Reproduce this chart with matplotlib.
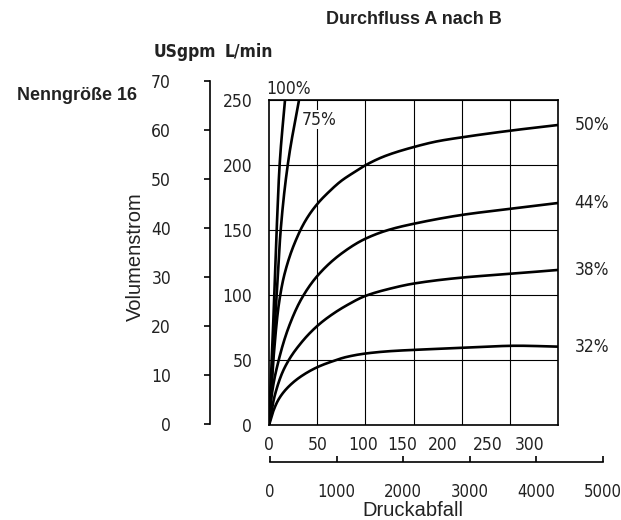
import matplotlib as mpl
mpl.use("Agg")
import matplotlib.pyplot as plt
import numpy as np
from matplotlib import font_manager

# schmale Schrift suchen, sonst Liberation Sans
def pick_font(bold):
    want = 700 if bold else 400
    for f in font_manager.fontManager.ttflist:
        n = f.name.lower()
        narrow = ("narrow" in n or "condensed" in n or f.stretch in ("condensed", "semi-condensed"))
        w = f.weight if isinstance(f.weight, int) else (700 if "bold" in str(f.weight) else 400)
        if narrow and w == want and f.style == "normal" and "mono" not in n and "cjk" not in n:
            return font_manager.FontProperties(fname=f.fname), True
    fam = "Liberation Sans"
    return font_manager.FontProperties(family=fam, weight="bold" if bold else "normal"), False


FP, IS_NARROW = pick_font(False)
FPB, IS_NARROW_B = pick_font(True)
TS = 12.5 if IS_NARROW else 11
TSB = 12.5 if IS_NARROW_B else 11
WIDE = ["Liberation Sans", "DejaVu Sans"]
plt.rcParams["font.family"] = WIDE

# Kennlinien (Druckabfall in bar, Volumenstrom in L/min)
p_100 = [0, 2.8, 5.5, 8, 11, 16.6]
q_100 = [0, 49, 100, 151, 200, 250]
p_75 = [0, 3.8, 8, 12.1, 19.4, 31.1]
q_75 = [0, 50, 100, 150, 200, 250]
p_50 = [0, 4.5, 10, 16, 30, 40, 51, 60, 75, 87, 100, 120, 150, 175, 200, 250, 300]
q_50 = [0, 50, 92, 116, 146, 160, 171, 178, 188, 194, 200, 207, 214, 218.5, 221.5, 226.6, 231]
p_44 = [0, 2.8, 9.7, 20, 34, 51, 75, 100, 125, 150, 200, 250, 300]
q_44 = [0, 23, 49, 74.6, 97.7, 115.6, 132, 143.5, 150.5, 155, 161.8, 166.5, 171]
p_38 = [0, 6, 16, 34, 51, 65, 80, 100, 125, 150, 200, 250, 300]
q_38 = [0, 23, 44, 64, 77, 85, 92, 99.5, 105, 109, 113.6, 116.5, 119.5]
p_32 = [0, 4, 10, 20, 34, 51, 65, 80, 100, 125, 150, 200, 258, 300]
q_32 = [0, 10, 20, 29.5, 38, 45, 49, 52.5, 55.2, 57, 58, 59.5, 61.2, 60.5]

bar_label_pos = [0, 50.9, 97.6, 138, 180.6, 227, 271]
bar_labels = ["0", "50", "100", "150", "200", "250", "300"]
bar_grid = [50, 100, 150, 200, 250]
lpm_ticks = [0, 50, 100, 150, 200, 250]
gpm_ticks = [0, 10, 20, 30, 40, 50, 60, 70]
psi_ticks = [0, 1000, 2000, 3000, 4000, 5000]
psi_labels = ["0", "1000", "2000", "3000", "4000", "5000"]


def smooth(p, q, n=40):
    x = np.asarray(p, float)
    y = np.asarray(q, float)
    h = np.diff(x)
    d = np.diff(y) / h
    m = np.zeros_like(y)
    m[0], m[-1] = d[0], d[-1]
    for i in range(1, len(x) - 1):
        if d[i - 1] * d[i] <= 0:
            m[i] = 0
        else:
            w1 = 2 * h[i] + h[i - 1]
            w2 = h[i] + 2 * h[i - 1]
            m[i] = (w1 + w2) / (w1 / d[i - 1] + w2 / d[i])
    xs, ys = [], []
    for i in range(len(x) - 1):
        t = np.linspace(0, 1, n, endpoint=False)
        h00 = 2 * t**3 - 3 * t**2 + 1
        h10 = t**3 - 2 * t**2 + t
        h01 = -2 * t**3 + 3 * t**2
        h11 = t**3 - t**2
        xs.append(x[i] + t * h[i])
        ys.append(h00 * y[i] + h10 * h[i] * m[i] + h01 * y[i + 1] + h11 * h[i] * m[i + 1])
    xs.append([x[-1]])
    ys.append([y[-1]])
    return np.concatenate(xs), np.concatenate(ys)


W, H = 621, 520
fig = plt.figure(figsize=(W / 100, H / 100), dpi=100)

# Hauptdiagramm
ax = fig.add_axes([269 / W, (H - 425.3) / H, 289 / W, 325 / H])
for p, q in [(p_100, q_100), (p_75, q_75), (p_50, q_50), (p_44, q_44), (p_38, q_38), (p_32, q_32)]:
    xs, ys = smooth(p, q)
    ax.plot(xs, ys, color="black", lw=1.9, solid_capstyle="round", zorder=3)
ax.set_xlim(0, 300)
ax.set_ylim(0, 250)
ax.set_xticks(bar_label_pos)
ax.set_xticklabels(bar_labels)
ax.set_xticks(bar_grid, minor=True)
ax.set_yticks(lpm_ticks)
ax.grid(which="minor", axis="x", color="black", lw=0.8)
ax.grid(which="major", axis="y", color="black", lw=0.8)
ax.tick_params(axis="both", which="both", length=0)
ax.tick_params(axis="x", pad=8)
ax.tick_params(axis="y", pad=12)
for lbl in ax.get_xticklabels() + ax.get_yticklabels():
    lbl.set_fontproperties(FP)
    lbl.set_fontsize(TS)
    lbl.set_color("#222222")
for s in ax.spines.values():
    s.set_linewidth(1.2)

for p, q, lab in [(p_50, q_50, "50%"), (p_44, q_44, "44%"), (p_38, q_38, "38%"), (p_32, q_32, "32%")]:
    ax.text(317, q[-1], lab, fontproperties=FP, fontsize=TS, va="center", ha="left",
            clip_on=False, color="#222222")
ax.text(20.8, 258.7, "100%", fontproperties=FP, fontsize=TS, va="center", ha="center",
        clip_on=False, color="#222222")
ax.text(51.9, 235, "75%", fontproperties=FP, fontsize=TS, va="center", ha="center", color="#222222",
        bbox=dict(facecolor="white", edgecolor="none", pad=0.5))

# USgpm-Achse
axg = fig.add_axes([210 / W, (H - 424) / H, 0.001, (424 - 80.7) / H])
axg.set_ylim(0, 70)
axg.set_yticks(gpm_ticks)
axg.set_xticks([])
for k in ["top", "right", "bottom"]:
    axg.spines[k].set_visible(False)
axg.spines["left"].set_linewidth(1.2)
axg.tick_params(axis="y", length=4, width=1.2, pad=24)
for lbl in axg.get_yticklabels():
    lbl.set_fontproperties(FP)
    lbl.set_fontsize(TS)
    lbl.set_color("#222222")
axg.patch.set_visible(False)

# psi-Achse
axp = fig.add_axes([270 / W, (H - 461.7) / H, 333 / W, 0.001])
axp.set_xlim(0, 5000)
axp.set_xticks(psi_ticks)
axp.set_xticklabels(psi_labels)
axp.set_yticks([])
for k in ["top", "right", "left"]:
    axp.spines[k].set_visible(False)
axp.spines["bottom"].set_linewidth(1.2)
axp.tick_params(axis="x", direction="in", length=4, width=1.2, pad=15)
for lbl in axp.get_xticklabels():
    lbl.set_fontproperties(FP)
    lbl.set_fontsize(TS - 0.5)
    lbl.set_color("#222222")
axp.get_xticklabels()[-1].set_x(4950)
axp.patch.set_visible(False)

fig.text(414 / W, 1 - 20 / H, "Durchfluss A nach B", fontweight="bold",
         fontsize=13, ha="center", va="center", color="#222222")
fig.text(137 / W, 1 - 96 / H, "Nenngröße 16", fontweight="bold",
         fontsize=13, ha="right", va="center", color="#222222")
fig.text(185 / W, 1 - 52 / H, "USgpm", fontproperties=FPB, fontsize=TSB, ha="center", va="center",
         color="#222222")
fig.text(249 / W, 1 - 52 / H, "L/min", fontproperties=FPB, fontsize=TSB, ha="center", va="center",
         color="#222222")
fig.text(135 / W, 1 - 257 / H, "Volumenstrom", fontsize=14.5, rotation=90,
         ha="center", va="center", color="#222222")
fig.text(413 / W, 1 - 510 / H, "Druckabfall", fontsize=14.5,
         ha="center", va="center", color="#222222")

fig.savefig("out.png", dpi=100)
